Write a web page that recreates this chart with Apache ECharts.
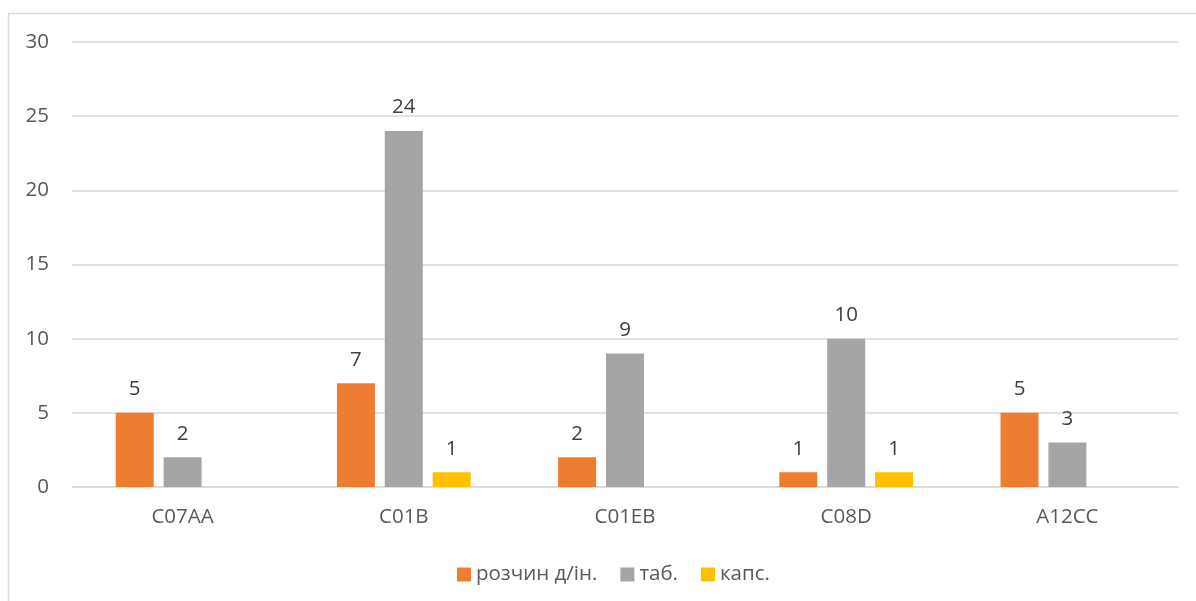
<!DOCTYPE html>
<html>
<head>
<meta charset="utf-8">
<script src="https://cdn.jsdelivr.net/npm/echarts@6/dist/echarts.min.js"></script>
<style>
  html, body { margin: 0; padding: 0; background: #ffffff; }
  #chart { width: 1196px; height: 601px; }
</style>
</head>
<body>
<div id="chart"></div>
<script>
// ATC groups on the category axis
const categories = ['C07AA', 'C01B', 'C01EB', 'C08D', 'A12CC'];
// counts per dosage form
const solution = [5, 7, 2, 1, 5];          // розчин д/ін.
const tablets = [2, 24, 9, 10, 3];         // таб.
const capsules = [null, 1, null, 1, null]; // капс.
const seriesNames = ['розчин д/ін.', 'таб.', 'капс.'];
const yTicks = { min: 0, max: 30, interval: 5 };

const FONT = '"Open Sans", "Noto Sans", sans-serif';
const FS = 20.5;
const chart = echarts.init(document.getElementById('chart'), null, { renderer: 'canvas' });

const labelStyle = {
  show: true,
  position: 'top',
  distance: 13,
  color: '#404040',
  fontSize: FS,
  fontFamily: FONT
};

function bar(name, data, color) {
  return {
    name: name,
    type: 'bar',
    data: data,
    barWidth: 38,
    barGap: '26%',
    itemStyle: { color: color },
    label: labelStyle
  };
}

chart.setOption({
  animation: false,
  backgroundColor: '#ffffff',
  textStyle: { fontFamily: FONT },
  graphic: [{
    type: 'rect',
    shape: { x: 8.5, y: 13.5, width: 1300, height: 700 },
    style: { fill: 'none', stroke: '#d9d9d9', lineWidth: 1.5 },
    silent: true,
    z: -1
  }],
  grid: { left: 72, right: 18, top: 42, bottom: 114, containLabel: false },
  legend: {
    data: seriesNames,
    left: 452,
    top: 559,
    icon: 'rect',
    itemWidth: 14,
    itemHeight: 14,
    itemGap: 23,
    textStyle: { color: '#595959', fontSize: FS, fontFamily: FONT }
  },
  xAxis: {
    type: 'category',
    data: categories,
    axisLine: { show: true, lineStyle: { color: '#d9d9d9', width: 1.5 } },
    axisTick: { show: false },
    axisLabel: { color: '#595959', fontSize: FS, fontFamily: FONT, margin: 20 }
  },
  yAxis: {
    type: 'value',
    min: yTicks.min,
    max: yTicks.max,
    interval: yTicks.interval,
    axisLine: { show: false },
    axisTick: { show: false },
    splitLine: { lineStyle: { color: '#d9d9d9', width: 1.5 } },
    axisLabel: { color: '#595959', fontSize: FS, fontFamily: FONT, margin: 23 }
  },
  series: [
    bar(seriesNames[0], solution, '#ed7d31'),
    bar(seriesNames[1], tablets, '#a5a5a5'),
    bar(seriesNames[2], capsules, '#ffc000')
  ]
});
</script>
</body>
</html>
